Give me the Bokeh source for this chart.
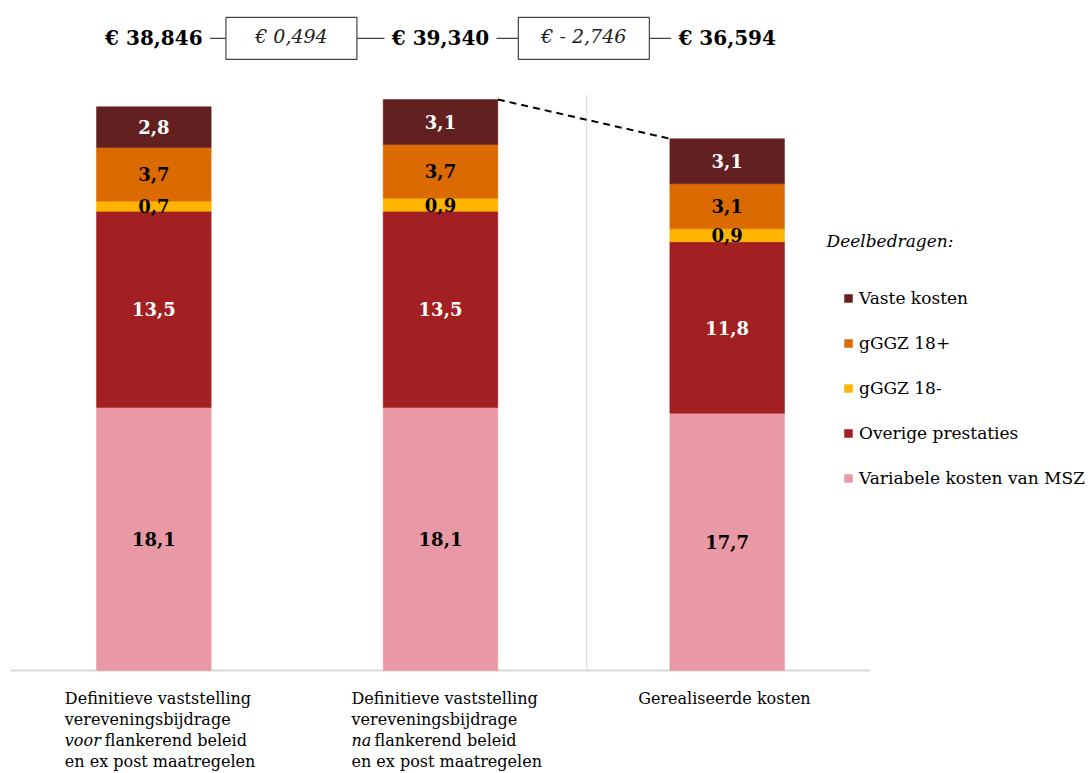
from bokeh.plotting import figure
from bokeh.models import Range1d, ColumnDataSource, Legend, LegendItem, Label
from bokeh.core.properties import value
from bokeh.embed import file_html
from bokeh.resources import INLINE

# ---- data ----
categories = ["Definitieve vaststelling voor", "Definitieve vaststelling na", "Gerealiseerde kosten"]
series_names = ["Variabele kosten van MSZ", "Overige prestaties", "gGGZ 18-", "gGGZ 18+", "Vaste kosten"]
variabele = [18.1, 18.1, 17.7]
overige = [13.5, 13.5, 11.8]
ggz_min = [0.7, 0.9, 0.9]
ggz_plus = [3.7, 3.7, 3.1]
vaste = [2.8, 3.1, 3.1]
totals = [38.846, 39.340, 36.594]
differences = [0.494, -2.746]
colors = ["#E999A5", "#A21F22", "#FFB400", "#DB6A00", "#622020"]
label_colors = ["black", "white", "black", "black", "white"]
cat_lines = [
    [("Definitieve vaststelling", ""), ("vereveningsbijdrage", ""), ("flankerend beleid", "voor"), ("en ex post maatregelen", "")],
    [("Definitieve vaststelling", ""), ("vereveningsbijdrage", ""), ("flankerend beleid", "na"), ("en ex post maatregelen", "")],
    [("Gerealiseerde kosten", "")],
]

SERIF = "DejaVu Serif"
values = [variabele, overige, ggz_min, ggz_plus, vaste]
xc = [i + 0.5 for i in range(len(categories))]

W, H = 1092, 773
XS, YS = 286.67, 14.53

def fmt(v, nd=1):
    return f"{v:.{nd}f}".replace(".", ",")

p = figure(width=W, height=H,
           x_range=Range1d(-10 / XS, (W - 10) / XS),
           y_range=Range1d(-(H - 670) / YS, 670 / YS),
           min_border=0, toolbar_location=None, output_backend="svg",
           x_axis_location=None, y_axis_location=None)
p.outline_line_color = None
p.grid.grid_line_color = None
p.background_fill_color = "white"

# baseline and separator
p.segment(x0=[0], y0=[0], x1=[len(categories)], y1=[0], line_color="#d9d9d9", line_width=2)
p.segment(x0=[2.01], y0=[0], x1=[2.01], y1=[39.6], line_color="#d9d9d9", line_width=1)

# stacked bars
renderers = []
bottoms = [0.0] * len(categories)
lx, ly, lt, lc = [], [], [], []
for name, vals, col, tcol in zip(series_names, values, colors, label_colors):
    tops = [b + v for b, v in zip(bottoms, vals)]
    src = ColumnDataSource(dict(x=xc, bottom=bottoms, top=tops))
    r = p.vbar(x="x", bottom="bottom", top="top", width=0.4, source=src,
               fill_color=col, line_color=col, line_width=0.5)
    renderers.append((name, r))
    for x, b, t, v in zip(xc, bottoms, tops, vals):
        lx.append(x); ly.append((b + t) / 2); lt.append(fmt(v)); lc.append(tcol)
    bottoms = tops

p.text(x=lx, y=ly, text=lt, text_color=lc, text_align="center", text_baseline="middle",
       text_font=value(SERIF), text_font_style="bold", text_font_size="18px")

# dashed connector between bar 2 and bar 3
p.line(x=[xc[1] + 0.2, xc[2] - 0.2], y=[bottoms[1], bottoms[2]],
       line_color="black", line_width=2, line_dash="7 5")

# top annotation row
ytop = 43.5
p.line(x=[xc[0], xc[-1]], y=[ytop, ytop], line_color="#444444", line_width=1.2)
p.rect(x=xc, y=[ytop] * 3, width=112, height=30, width_units="screen", height_units="screen",
       fill_color="white", line_color=None)
p.text(x=xc, y=[ytop] * 3, text=["€ " + fmt(t, 3) for t in totals], text_align="center",
       text_baseline="middle", text_font=value(SERIF), text_font_style="bold",
       text_font_size="20px", text_color="black")
bx = [1.0 - 0.02, 2.0]
p.rect(x=bx, y=[ytop] * 2, width=131, height=42, width_units="screen", height_units="screen",
       fill_color="white", line_color="#444444", line_width=1.2)
dtxt = ["€ " + fmt(d, 3) if d >= 0 else "€ - " + fmt(-d, 3) for d in differences]
p.text(x=bx, y=[ytop + 0.2] * 2, text=dtxt, text_align="center", text_baseline="middle",
       text_font=value(SERIF), text_font_style="italic", text_font_size="19px",
       text_color="#222222")

# category labels (left aligned block under each bar)
for x, lines in zip(xc, cat_lines):
    for i, (txt, ital) in enumerate(lines):
        yoff = 18 + i * 21
        if ital:
            p.text(x=[x], y=[0], text=[ital], x_offset=-89, y_offset=yoff, text_align="left",
                   text_baseline="top", text_font=value(SERIF), text_font_style="italic",
                   text_font_size="16px", text_color="black")
            off = -89 + (40 if ital == "voor" else 23)
            p.text(x=[x], y=[0], text=[txt], x_offset=off, y_offset=yoff, text_align="left",
                   text_baseline="top", text_font=value(SERIF), text_font_size="16px",
                   text_color="black")
        else:
            p.text(x=[x], y=[0], text=[txt], x_offset=-89, y_offset=yoff, text_align="left",
                   text_baseline="top", text_font=value(SERIF), text_font_size="16px",
                   text_color="black")

# legend
items = [LegendItem(label=n, renderers=[r]) for n, r in reversed(renderers)]
legend = Legend(items=items, location=(843, H - 488), glyph_width=10, glyph_height=10,
                label_text_font=SERIF, label_text_font_size="17px", label_standoff=6,
                label_text_color="black",
                label_height=20, spacing=25, padding=0, margin=0,
                border_line_color=None, background_fill_alpha=0)
p.add_layout(legend)
p.add_layout(Label(x=826, y=H - 240, x_units="screen", y_units="screen", text="Deelbedragen:",
                   text_font=SERIF, text_font_style="italic", text_font_size="17px",
                   text_baseline="middle", text_color="black"))

open("out.html", "w").write(file_html(p, INLINE))
